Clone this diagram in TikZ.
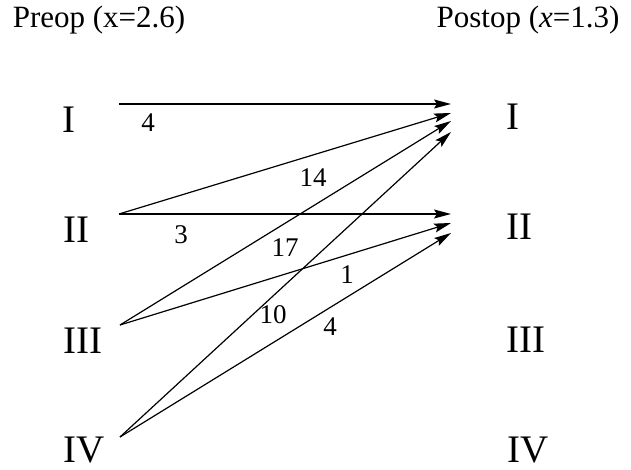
\documentclass[tikz,border=0pt]{standalone}
\usepackage{fontspec}
\setmainfont{Liberation Serif}
\usetikzlibrary{arrows.meta}
\begin{document}
\begin{tikzpicture}[x=1pt,y=-1pt,
  title/.style={font=\fontsize{31}{36}\selectfont, inner sep=0pt},
  grade/.style={font=\fontsize{39}{44}\selectfont, inner sep=0pt, anchor=base west},
  num/.style={font=\fontsize{27}{32}\selectfont, inner sep=0pt},
  flow/.style={line width=1.2pt, -{Stealth[length=17pt,width=9pt,inset=3pt]}}]
\useasboundingbox (0,0) rectangle (631,470);
% titles
\node[title] (tpre) at (99,20) {Preop (x=2.6)};
\node[title] (tpost) at (528,20) {Postop (\textit{x}=1.3)};
% grade labels
\node[grade] (L1) at (62,133) {I};
\node[grade] (L2) at (63,243) {II};
\node[grade] (L3) at (63,353) {III};
\node[grade] (L4) at (63,462) {IV};
\node[grade] (R1) at (506,130) {I};
\node[grade] (R2) at (506,240) {II};
\node[grade] (R3) at (506,352) {III};
\node[grade] (R4) at (507,462) {IV};
% ports
\coordinate (s1) at (119,104);
\coordinate (s2) at (119,214);
\coordinate (s3) at (120,325);
\coordinate (s4) at (120,437);
\coordinate (a1) at (451,104);
\coordinate (a2) at (451,113);
\coordinate (a3) at (451,121);
\coordinate (a4) at (451,132);
\coordinate (b2) at (451,214);
\coordinate (b3) at (451,223);
\coordinate (b4) at (451,233);
% flows
\draw[flow] (s1) -- (a1);
\draw[flow] (s2) -- (a2);
\draw[flow] (s2) -- (b2);
\draw[flow] (s3) -- (a3);
\draw[flow] (s3) -- (b3);
\draw[flow] (s4) -- (a4);
\draw[flow] (s4) -- (b4);
% counts
\node[num] (n11) at (148,123) {4};
\node[num] (n21) at (313,178) {14};
\node[num] (n22) at (181,235) {3};
\node[num] (n31) at (285,248) {17};
\node[num] (n32) at (347,275) {1};
\node[num] (n41) at (273,315) {10};
\node[num] (n42) at (330,327) {4};
\end{tikzpicture}
\end{document}
